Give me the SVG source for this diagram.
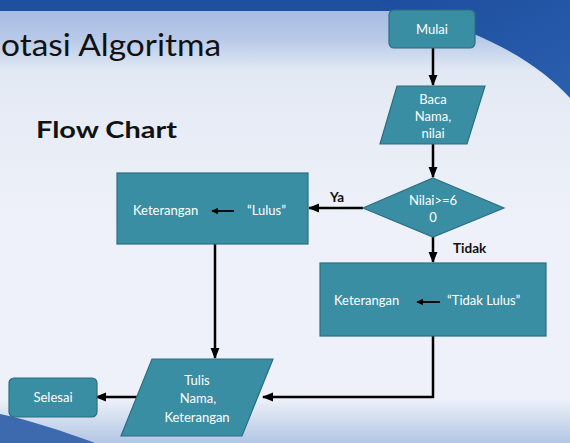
<svg xmlns="http://www.w3.org/2000/svg" width="570" height="443" viewBox="0 0 570 443">
<defs>
<linearGradient id="bg" x1="0" y1="0" x2="0" y2="1">
<stop offset="0" stop-color="#9fb6df"/>
<stop offset="0.09" stop-color="#b9cae8"/>
<stop offset="0.16" stop-color="#e3e9f4"/>
<stop offset="0.5" stop-color="#eef1f9"/>
<stop offset="0.9" stop-color="#eef1f9"/>
<stop offset="0.94" stop-color="#d5e0f0"/>
<stop offset="1" stop-color="#b3c6e6"/>
</linearGradient>
<linearGradient id="swoosh" x1="0" y1="0" x2="1" y2="1">
<stop offset="0" stop-color="#1d4d9e"/>
<stop offset="1" stop-color="#2a5fae"/>
</linearGradient>
<marker id="ah" viewBox="0 0 10 10" refX="9" refY="5" markerWidth="4" markerHeight="4" orient="auto">
<path d="M0,0 L10,5 L0,10 z" fill="#000"/>
</marker>
<marker id="ahs" viewBox="0 0 10 10" refX="9" refY="5" markerWidth="4.5" markerHeight="4.5" orient="auto">
<path d="M0,1 L10,5 L0,9 z" fill="#000"/>
</marker>
<style>
.shape{fill:#3a8ea3;stroke:#2b6f80;stroke-width:1.2}
.t{font-family:Lato,"Open Sans","DejaVu Sans",sans-serif;font-size:13px;fill:#ffffff;text-anchor:middle}
.tl{font-family:Lato,"Open Sans","DejaVu Sans",sans-serif;font-size:13px;fill:#ffffff}
.lbl{font-family:Lato,"DejaVu Sans",sans-serif;font-size:13.5px;font-weight:bold;fill:#111}
.conn{stroke:#000;stroke-width:2.5;fill:none}
.inner{stroke:#000;stroke-width:1.8;fill:none}
</style>
</defs>
<g id="background">
<rect x="0" y="0" width="570" height="443" fill="url(#bg)"/>
<rect x="0" y="0" width="570" height="11" fill="#1f50a0"/>
<path d="M380,0 L570,0 L570,98 C540,66 500,40 420,14 L390,8 Z" fill="url(#swoosh)"/>
<path d="M0,414 C30,420 65,432 95,443 L0,443 Z" fill="#3d69ae"/>
</g>
<g id="title">
<text x="1" y="56" font-family="Lato,'Open Sans',sans-serif" font-size="31" fill="#111" textLength="220" lengthAdjust="spacingAndGlyphs">otasi Algoritma</text>
<text x="36" y="138" font-family="Lato,'Open Sans',sans-serif" font-size="22" font-weight="bold" fill="#111" textLength="141" lengthAdjust="spacingAndGlyphs">Flow Chart</text>
</g>
<g id="connectors">
<line class="conn" x1="433" y1="48" x2="433" y2="85" marker-end="url(#ahs)"/>
<line class="conn" x1="433" y1="144" x2="433" y2="177" marker-end="url(#ahs)"/>
<line class="conn" x1="363" y1="208" x2="309" y2="208" marker-end="url(#ahs)"/>
<line class="conn" x1="433" y1="237" x2="433" y2="262" marker-end="url(#ahs)"/>
<line class="conn" x1="215" y1="244" x2="215" y2="358" marker-end="url(#ahs)"/>
<polyline class="conn" points="433,336 433,397 263,397" marker-end="url(#ahs)"/>
<line class="conn" x1="138" y1="397" x2="96" y2="397" marker-end="url(#ahs)"/>
<text class="lbl" x="330" y="202">Ya</text>
<text class="lbl" x="453" y="253">Tidak</text>
</g>
<g id="mulai">
<rect class="shape" x="389" y="10" width="86" height="38" rx="5"/>
<text class="t" x="432" y="34">Mulai</text>
</g>
<g id="baca">
<polygon class="shape" points="397,86 485,86 467,144 380,144"/>
<text class="t" x="433" y="104">Baca</text>
<text class="t" x="433" y="121">Nama,</text>
<text class="t" x="433" y="138">nilai</text>
</g>
<g id="keputusan">
<polygon class="shape" points="433,178 504,208 433,237 363,208"/>
<text class="t" x="433" y="205">Nilai&gt;=6</text>
<text class="t" x="433" y="222">0</text>
</g>
<g id="lulus">
<rect class="shape" x="117" y="173" width="191" height="71"/>
<text class="tl" x="133" y="215">Keterangan</text>
<line class="inner" x1="234" y1="211" x2="212" y2="211" marker-end="url(#ah)"/>
<text class="tl" x="247" y="215">“Lulus”</text>
</g>
<g id="tidak-lulus">
<rect class="shape" x="320" y="263" width="226" height="73"/>
<text class="tl" x="334" y="305">Keterangan</text>
<line class="inner" x1="440" y1="302" x2="417" y2="302" marker-end="url(#ah)"/>
<text class="tl" x="447" y="305">“Tidak Lulus”</text>
</g>
<g id="tulis">
<polygon class="shape" points="152,359 273,359 242,436 121,436"/>
<text class="t" x="197" y="385">Tulis</text>
<text class="t" x="198" y="403">Nama,</text>
<text class="t" x="197" y="422">Keterangan</text>
</g>
<g id="selesai">
<rect class="shape" x="9" y="378" width="88" height="39" rx="5"/>
<text class="t" x="53" y="402">Selesai</text>
</g>
</svg>
